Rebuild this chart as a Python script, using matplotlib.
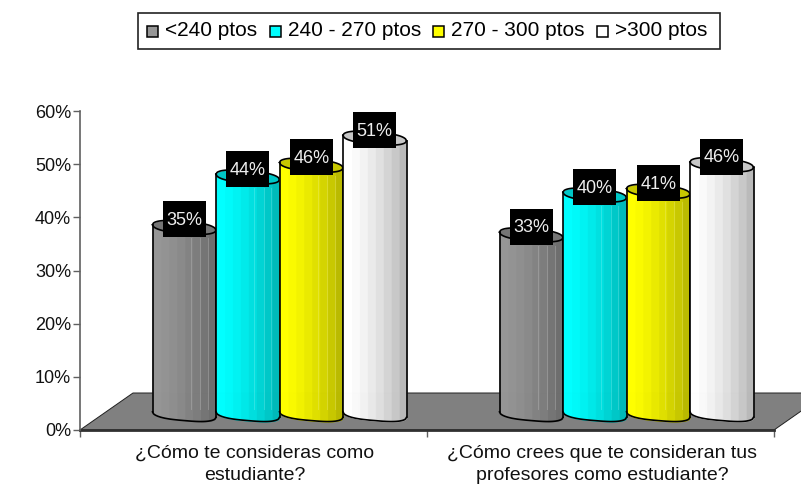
import numpy as np
import matplotlib
matplotlib.use('Agg')
import matplotlib.pyplot as plt
from matplotlib.patches import Polygon, Rectangle

plt.rcParams['font.family'] = 'Liberation Sans'

categories = ['¿Cómo te consideras como\nestudiante?',
              '¿Cómo crees que te consideran tus\nprofesores como estudiante?']
series = ['<240 ptos', '240 - 270 ptos', '270 - 300 ptos', '>300 ptos']
colors = ['#969696', '#00ffff', '#ffff00', '#ffffff']
values = [[35.2, 33.8], [44.7, 41.3], [46.9, 42.0], [52.0, 47.0]]
labels = [['35%', '33%'], ['44%', '40%'], ['46%', '41%'], ['51%', '46%']]
yticks = [0, 10, 20, 30, 40, 50, 60]

W, H = 801, 488
fig = plt.figure(figsize=(W / 100, H / 100), dpi=100)
ax = fig.add_axes([80 / W, 1 - 430 / H, 694 / W, 319 / H])
ax.set_xlim(0, 2)
ax.set_ylim(0, 60)
ppx = 694 / 2   # pixels per category
ppy = 319 / 60  # pixels per percent

for s in ['top', 'right']:
    ax.spines[s].set_visible(False)
ax.spines['left'].set_color('#606060')
ax.spines['left'].set_linewidth(1.2)
ax.spines['bottom'].set_color('#303030')
ax.spines['bottom'].set_linewidth(2)
ax.spines['bottom'].set_zorder(2)

# floor
floor = Polygon([(0, 0), (2, 0), (2 + 53 / ppx, 37 / ppy), (53 / ppx, 37 / ppy)],
                closed=True, facecolor='#808080', edgecolor='#202020', lw=0.7,
                clip_on=False, zorder=1)
ax.add_patch(floor)


def shade(c, f):
    return tuple(np.array(matplotlib.colors.to_rgb(c)) * f)


def cylinder(x0, w, v, color, z):
    base = 2.9
    n = 64
    t = np.linspace(-1, 1, n + 1)
    xs = x0 + (t + 1) / 2 * w
    b = 6.0 / ppy
    tilt = 2.7 / ppy
    bulge = np.sqrt(np.clip(1 - np.abs(t) ** 3, 0, 1))
    front = -tilt * t - b * bulge
    back = -tilt * t + b * bulge
    # body, banded shading
    for i in range(n):
        band = np.floor((t[i] + 1) / 2 * 8 * 0.9999) / 7
        f = 1 - 0.27 * band ** 1.4
        ax.fill_between(xs[i:i + 2], base + front[i:i + 2], base + v + front[i:i + 2],
                        color=shade(color, f), lw=0.6, antialiased=False,
                        zorder=z, clip_on=False)
    # thin light lines in the shaded part of the body
    if color != '#ffffff':
        for frac in [0.6, 0.75, 0.87]:
            xl = x0 + frac * w
            ax.plot([xl, xl], [base + 1, base + v - 2], color='white', alpha=0.18,
                    lw=0.7, zorder=z + 0.05, clip_on=False)
    # top ellipse
    ax.fill_between(xs, base + v + front, base + v + back, color=shade(color, 0.78),
                    lw=0, zorder=z + 0.1, clip_on=False)
    k = dict(color='black', lw=1.2, zorder=z + 0.2, clip_on=False)
    ax.plot(xs, base + v + front, **k)
    ax.plot(xs, base + v + back, **k)
    ax.plot(xs, base + front, **k)
    ax.plot([xs[0], xs[0]], [base + front[0], base + v + front[0]], **k)
    ax.plot([xs[-1], xs[-1]], [base + front[-1], base + v + front[-1]], **k)


bar_w = 63.5 / ppx
off = 26 / ppx
box_w = 43 / ppx
box_h = 36 / ppy
for c in range(2):
    centre = c + 0.5 + off
    for i in range(4):
        x0 = centre + (i - 2) * bar_w
        cylinder(x0, bar_w, values[i][c], colors[i], 3 + i)
for c in range(2):
    centre = c + 0.5 + off
    for i in range(4):
        xc = centre + (i - 1.5) * bar_w
        yc = values[i][c] + 4.4
        ax.add_patch(Rectangle((xc - box_w / 2, yc - box_h / 2), box_w, box_h,
                               facecolor='black', edgecolor='none', zorder=10, clip_on=False))
        ax.text(xc, yc - 0.2, labels[i][c], color='#eeeeee', fontsize=13, ha='center',
                va='center', zorder=11)

ax.set_yticks(yticks)
ax.set_yticklabels([f'{v}%' for v in yticks], fontsize=13, color='#111111')
ax.set_xticks([0, 1, 2])
ax.set_xticklabels([])
ax.tick_params(axis='y', length=5, width=1, color='#606060', pad=1.5)
ax.tick_params(axis='x', length=5, width=1, color='#606060')
for c in range(2):
    ax.text(c + 0.5 + 1.5 / ppx, -2.8, categories[c], ha='center', va='top', fontsize=14,
            linespacing=1.38, color='#111111', clip_on=False)

# legend
fig.add_artist(Rectangle((138 / W, 1 - 49 / H), 582 / W, 36 / H, transform=fig.transFigure,
                         facecolor='white', edgecolor='#222222', lw=1.2))
lx = [147, 270, 433, 597]
for i in range(4):
    fig.add_artist(Rectangle((lx[i] / W, 1 - 37 / H), 11 / W, 11 / H, transform=fig.transFigure,
                             facecolor=colors[i], edgecolor='black', lw=1.1))
    fig.text((lx[i] + 18) / W, 1 - 31 / H, series[i], fontsize=15, va='center', color='black')

fig.savefig('out.png', dpi=100)
